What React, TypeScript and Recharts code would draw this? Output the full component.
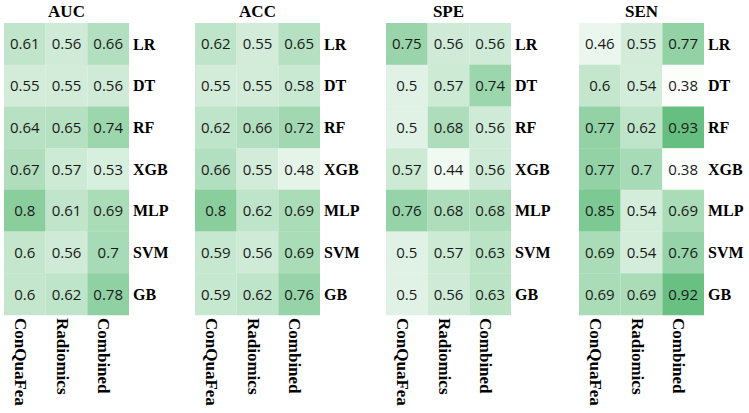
import { BarChart, Bar, Cell, XAxis, YAxis } from 'recharts';

const models = ['LR', 'DT', 'RF', 'XGB', 'MLP', 'SVM', 'GB'];
const featureSets = ['ConQuaFea', 'Radiomics', 'Combined'];

const aucConQuaFea = [0.61, 0.55, 0.64, 0.67, 0.8, 0.6, 0.6];
const aucRadiomics = [0.56, 0.55, 0.65, 0.57, 0.61, 0.56, 0.62];
const aucCombined = [0.66, 0.56, 0.74, 0.53, 0.69, 0.7, 0.78];

const accConQuaFea = [0.62, 0.55, 0.62, 0.66, 0.8, 0.59, 0.59];
const accRadiomics = [0.55, 0.55, 0.66, 0.55, 0.62, 0.56, 0.62];
const accCombined = [0.65, 0.58, 0.72, 0.48, 0.69, 0.69, 0.76];

const speConQuaFea = [0.75, 0.5, 0.5, 0.57, 0.76, 0.5, 0.5];
const speRadiomics = [0.56, 0.57, 0.68, 0.44, 0.68, 0.57, 0.56];
const speCombined = [0.56, 0.74, 0.56, 0.56, 0.68, 0.63, 0.63];

const senConQuaFea = [0.46, 0.6, 0.77, 0.77, 0.85, 0.69, 0.69];
const senRadiomics = [0.55, 0.54, 0.62, 0.7, 0.54, 0.54, 0.69];
const senCombined = [0.77, 0.38, 0.93, 0.38, 0.69, 0.76, 0.92];

const panels = [
  { title: 'AUC', left: 4, cols: [aucConQuaFea, aucRadiomics, aucCombined] },
  { title: 'ACC', left: 195, cols: [accConQuaFea, accRadiomics, accCombined] },
  { title: 'SPE', left: 386, cols: [speConQuaFea, speRadiomics, speCombined] },
  { title: 'SEN', left: 579, cols: [senConQuaFea, senRadiomics, senCombined] },
];

const serif = '"Liberation Serif", "Times New Roman", serif';

// white -> green, clamped
const lo = [252, 254, 252];
const hi = [102, 191, 128];
function cellColor(v: number) {
  let t = (v - 0.4) / (0.93 - 0.4);
  t = Math.max(0, Math.min(1, t));
  const c = lo.map((a, i) => Math.round(a + (hi[i] - a) * t));
  return `rgb(${c[0]},${c[1]},${c[2]})`;
}

function Heatmap({ cols }: { cols: number[][] }) {
  const data = models.map((m, i) => {
    const row: any = { model: m };
    featureSets.forEach((f, j) => (row[f] = cols[j][i]));
    return row;
  });

  return (
    <BarChart
      width={170}
      height={413}
      data={data}
      layout="vertical"
      barCategoryGap={0}
      margin={{ top: 23, right: 0, bottom: 0, left: 0 }}
    >
      <XAxis
        type="number"
        domain={[0, 3]}
        ticks={[0.5, 1.5, 2.5]}
        axisLine={false}
        tickLine={false}
        tickSize={0}
        tickMargin={3}
        height={98}
        interval={0}
        tick={(p: any) => (
          <text
            x={p.x}
            y={p.y}
            dy={10}
            transform={`rotate(90, ${p.x}, ${p.y})`}
            textAnchor="start"
            fontFamily={serif}
            fontWeight="bold"
            fontSize={17}
            fill="#000"
          >
            {featureSets[Math.floor(p.payload.value)]}
          </text>
        )}
      />
      <YAxis
        type="category"
        dataKey="model"
        orientation="right"
        width={45}
        axisLine={false}
        tickLine={false}
        tickSize={0}
        tickMargin={4}
        interval={0}
        tick={{ fontFamily: serif, fontWeight: 'bold', fontSize: 16, fill: '#000', textAnchor: 'start' }}
      />
      {featureSets.map((f) => (
        <Bar
          key={f}
          dataKey={() => 1}
          stackId="h"
          isAnimationActive={false}
          label={(p: any) => (
            <text
              x={p.x + p.width / 2}
              y={p.y + p.height / 2}
              dy="0.36em"
              textAnchor="middle"
              fontFamily='"Open Sans", sans-serif'
              fontSize={15}
              fill="#1a1a1a"
            >
              {String(data[p.index][f])}
            </text>
          )}
        >
          {data.map((row, i) => (
            <Cell key={i} fill={cellColor(row[f])} />
          ))}
        </Bar>
      ))}
    </BarChart>
  );
}

export default function App() {
  return (
    <div style={{ position: 'absolute', left: 0, top: 0, width: 749, height: 413, background: '#fff' }}>
      {panels.map((p) => (
        <div key={p.title} style={{ position: 'absolute', left: p.left, top: 0 }}>
          <div
            style={{
              position: 'absolute',
              left: 0,
              top: 3,
              width: 125,
              textAlign: 'center',
              fontFamily: serif,
              fontWeight: 'bold',
              fontSize: 17,
              lineHeight: '17px',
              zIndex: 1,
            }}
          >
            {p.title}
          </div>
          <Heatmap cols={p.cols} />
        </div>
      ))}
    </div>
  );
}
